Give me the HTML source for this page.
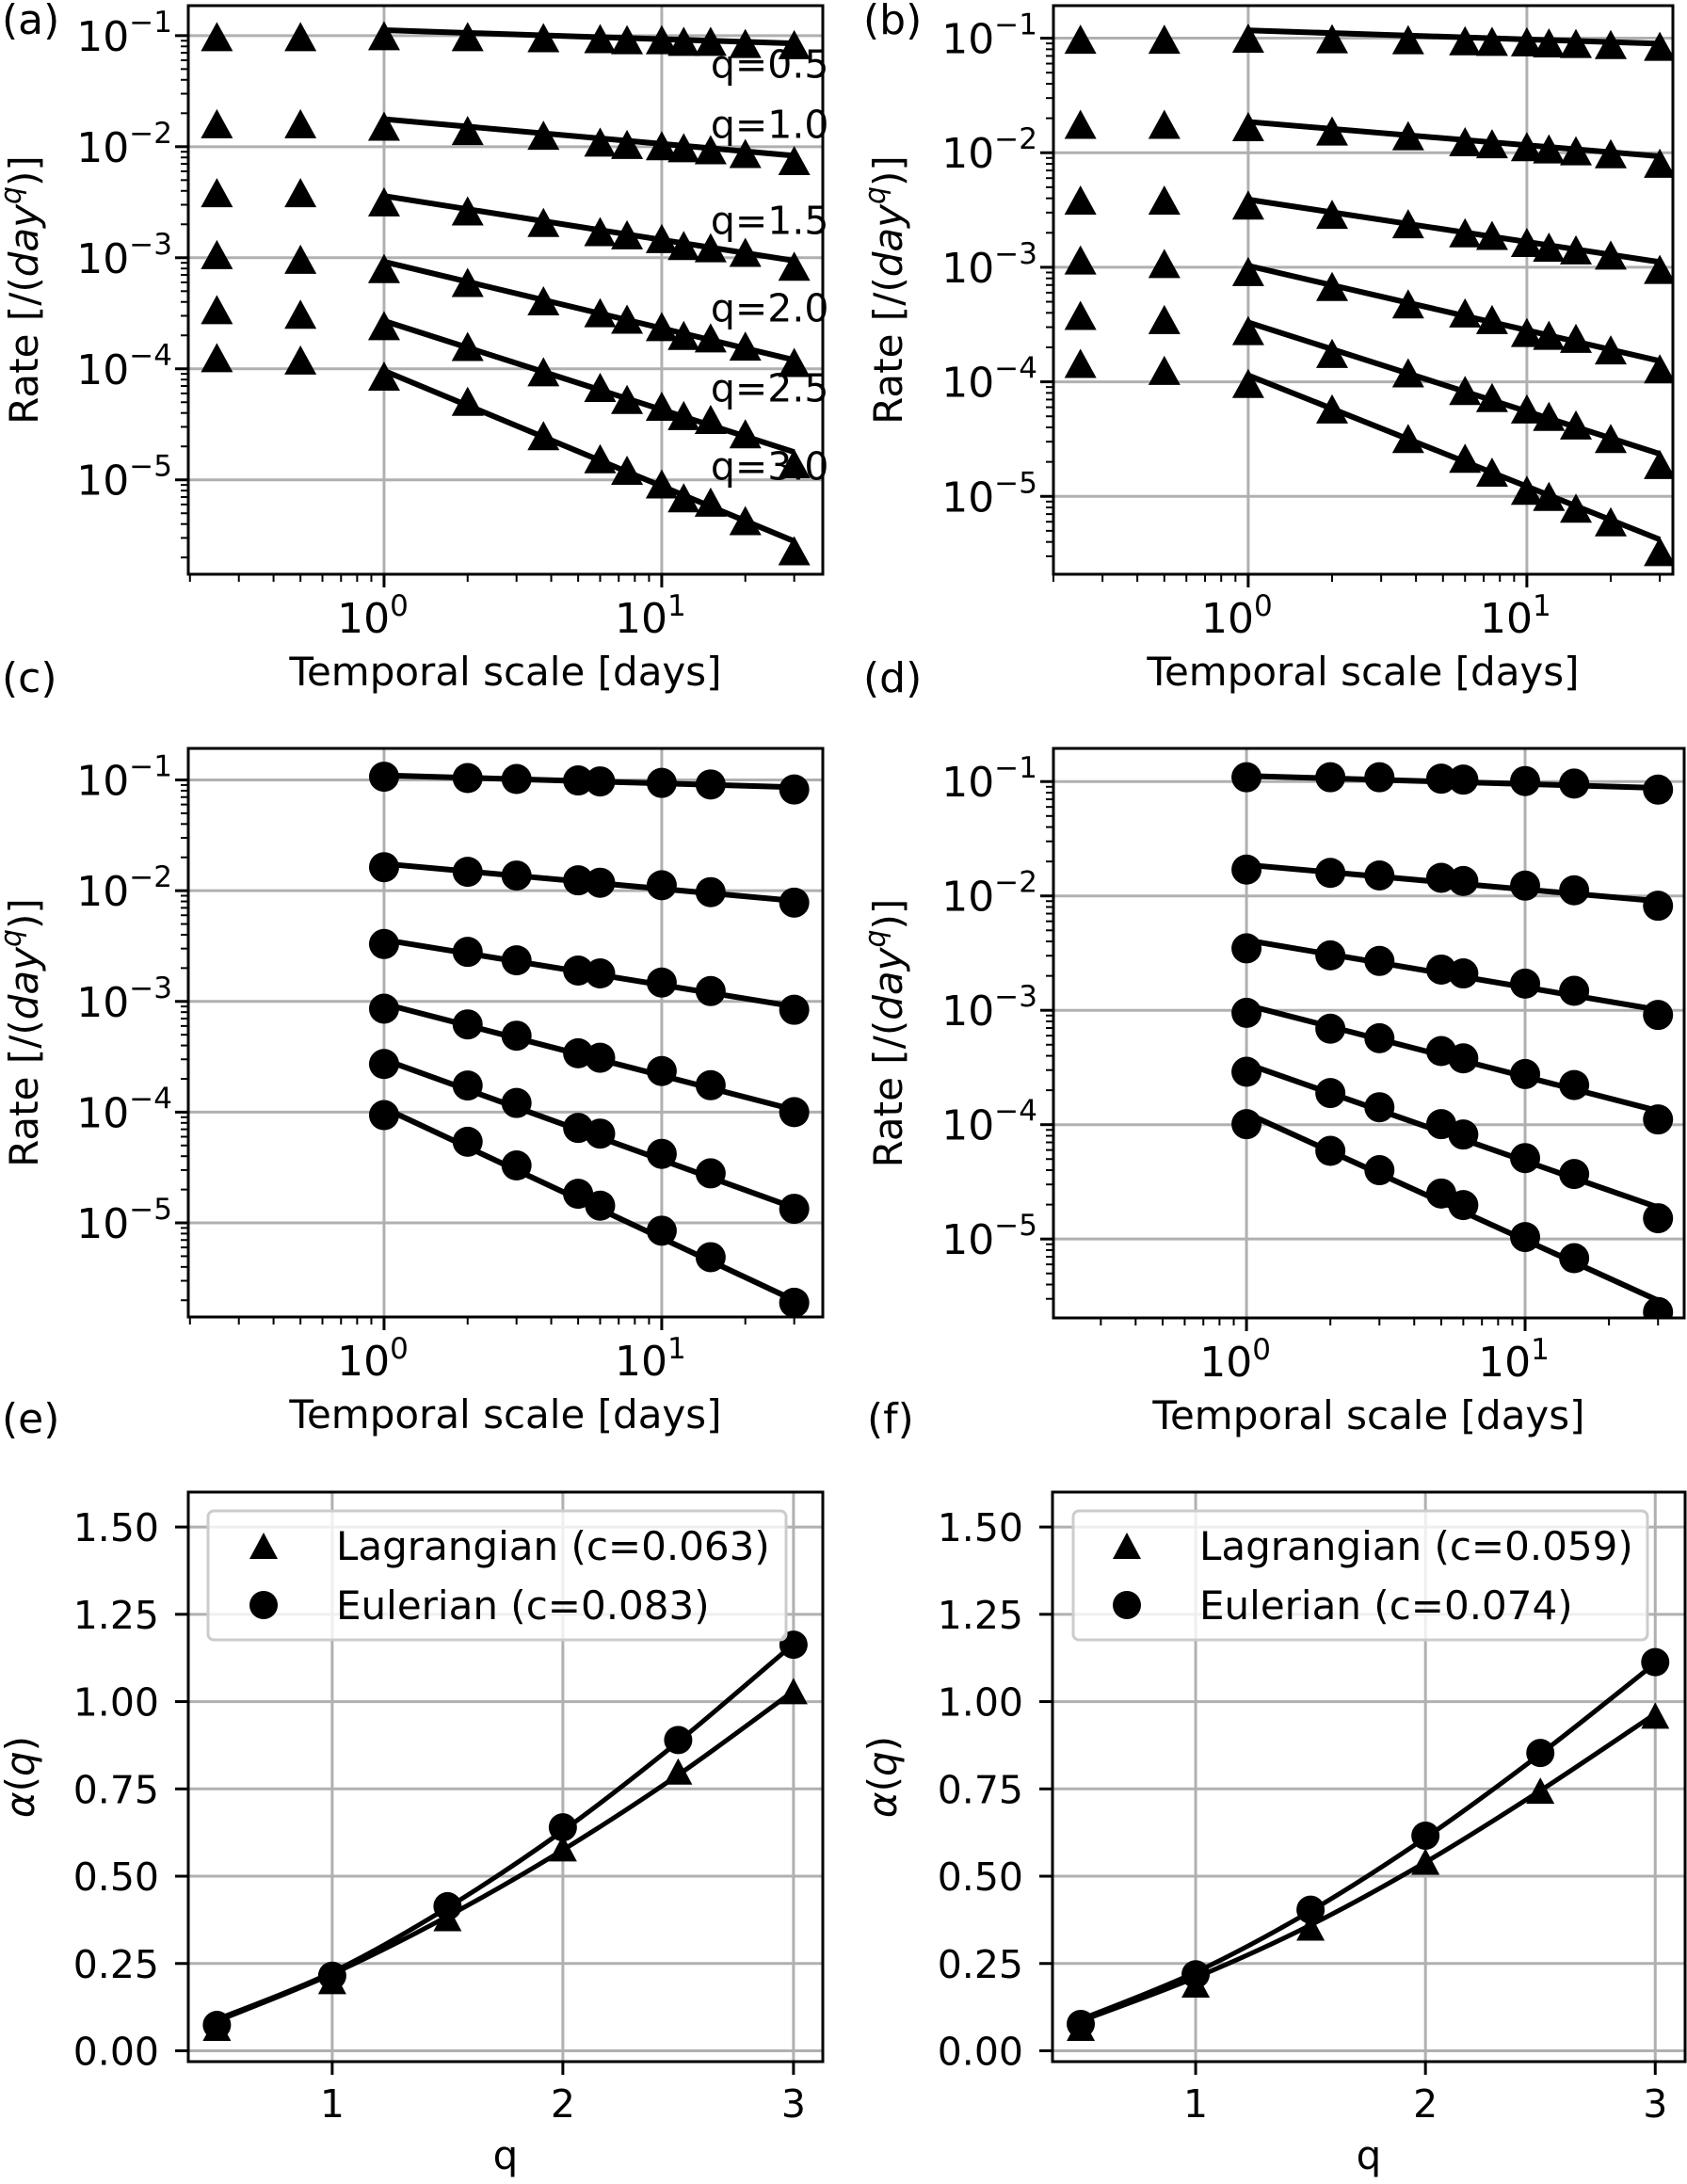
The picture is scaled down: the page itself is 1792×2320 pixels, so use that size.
<!DOCTYPE html>
<html><head><meta charset="utf-8"><style>
html,body{margin:0;padding:0;background:#fff;}
svg{display:block;font-family:"DejaVu Sans","Liberation Sans",sans-serif;}
</style></head><body>
<svg id="fig" width="1792" height="2320" viewBox="0 0 1792 2320" xmlns="http://www.w3.org/2000/svg">
<rect x="0" y="0" width="1792" height="2320" fill="#fff"/>
</svg>
<script>
// ---------- data ----------
const xTri = [0.25,0.5,1,2,3.75,6,7.5,10,12,15,20,30];
const xCirc = [1,2,3,5,6,10,15,30];
const qLabels = ["q=0.5","q=1.0","q=1.5","q=2.0","q=2.5","q=3.0"];
const qLabelY = [0.056,0.016,0.0022,0.000356,0.000068,0.0000134];
const qLabelX = 15;

const aQ05 = [0.098,0.098,0.100,0.098,0.096,0.094,0.092,0.092,0.089,0.089,0.085,0.083];
const aQ10 = [0.0161,0.0161,0.0153,0.0140,0.0127,0.0110,0.0105,0.0102,0.0098,0.0094,0.0087,0.0075];
const aQ15 = [0.00386,0.00386,0.00319,0.00264,0.00208,0.00172,0.00161,0.00149,0.00129,0.00123,0.00112,0.00084];
const aQ20 = [0.00107,0.00097,0.00080,0.00060,0.00041,0.00032,0.00028,0.00024,0.00020,0.00019,0.00016,0.000114];
const aQ25 = [3.41e-4,3.1e-4,2.45e-4,1.59e-4,0.94e-4,0.68e-4,0.53e-4,0.46e-4,0.38e-4,0.35e-4,0.26e-4,0.14e-4];
const aQ30 = [1.26e-4,1.2e-4,0.86e-4,0.51e-4,0.25e-4,1.55e-5,1.22e-5,0.92e-5,0.69e-5,0.63e-5,0.43e-5,0.23e-5];
const aFitStart = [0.112,0.0177,0.0036,0.00092,0.00027,0.000096];
const aFitEnd = [0.085,0.0083,0.00094,0.00012,0.0000178,0.0000028];

const bQ05 = [0.098,0.098,0.100,0.099,0.097,0.095,0.094,0.093,0.091,0.090,0.088,0.085];
const bQ10 = [0.0177,0.0177,0.0169,0.0155,0.0141,0.0125,0.0120,0.0113,0.0108,0.0104,0.0098,0.0081];
const bQ15 = [0.00386,0.00386,0.0035,0.0029,0.0024,0.0020,0.0019,0.00165,0.0015,0.00142,0.00128,0.00096];
const bQ20 = [0.00116,0.00108,0.00092,0.00068,0.00048,0.00040,0.00035,0.00027,0.000255,0.00024,0.00019,0.00013];
const bQ25 = [3.8e-4,3.5e-4,2.8e-4,1.77e-4,1.2e-4,0.84e-4,0.73e-4,0.58e-4,0.5e-4,0.42e-4,0.32e-4,0.19e-4];
const bQ30 = [1.45e-4,1.26e-4,0.97e-4,0.58e-4,0.32e-4,0.215e-4,0.163e-4,0.113e-4,1.0e-5,0.79e-5,0.6e-5,0.33e-5];
const bFitStart = [0.117,0.0186,0.0039,0.00103,0.00033,0.000114];
const bFitEnd = [0.0895,0.0093,0.00111,0.000152,0.0000235,0.0000042];

const cQ05 = [0.107,0.104,0.102,0.099,0.097,0.094,0.091,0.082];
const cQ10 = [0.0163,0.0148,0.0137,0.0124,0.0118,0.0112,0.0097,0.0078];
const cQ15 = [3.30e-3,2.80e-3,2.35e-3,1.90e-3,1.79e-3,1.48e-3,1.24e-3,0.84e-3];
const cQ20 = [0.86e-3,0.62e-3,0.49e-3,0.34e-3,0.31e-3,0.235e-3,0.175e-3,0.10e-3];
const cQ25 = [2.72e-4,1.74e-4,1.21e-4,0.72e-4,0.64e-4,0.42e-4,0.28e-4,0.134e-4];
const cQ30 = [0.94e-4,0.54e-4,0.33e-4,0.183e-4,0.143e-4,0.085e-4,0.049e-4,0.19e-5];
const cFitStart = [0.110,0.0175,0.0036,0.00095,0.000298,0.000109];
const cFitEnd = [0.086,0.0081,0.00090,0.000105,0.0000137,0.0000020];

const dQ05 = [0.109,0.109,0.109,0.106,0.104,0.101,0.096,0.085];
const dQ10 = [0.0170,0.0159,0.0151,0.0144,0.0135,0.0123,0.0112,0.0082];
const dQ15 = [3.48e-3,3.02e-3,2.70e-3,2.27e-3,2.10e-3,1.71e-3,1.48e-3,0.91e-3];
const dQ20 = [0.95e-3,0.69e-3,0.57e-3,0.44e-3,0.38e-3,0.277e-3,0.222e-3,0.111e-3];
const dQ25 = [2.9e-4,1.89e-4,1.42e-4,1.01e-4,0.82e-4,0.51e-4,0.37e-4,0.152e-4];
const dQ30 = [1.01e-4,0.59e-4,0.40e-4,0.25e-4,0.198e-4,1.04e-5,0.68e-5,0.23e-5];
const dFitStart = [0.112,0.0187,0.0041,0.00111,0.00034,0.000126];
const dFitEnd = [0.088,0.0090,0.00101,0.000132,0.0000189,0.0000029];

const qVals = [0.5,1,1.5,2,2.5,3];
const eLag = [0.066,0.20,0.38,0.58,0.80,1.03];
const eEul = [0.074,0.215,0.414,0.64,0.89,1.163];
const eFitLag = [0.085,0.22,0.385,0.575,0.79,1.03];
const eFitEul = [0.09,0.225,0.41,0.63,0.885,1.165];
const fLag = [0.066,0.19,0.353,0.542,0.745,0.96];
const fEul = [0.077,0.219,0.404,0.616,0.853,1.113];
const fFitLag = [0.085,0.21,0.36,0.54,0.745,0.965];
const fFitEul = [0.09,0.225,0.40,0.61,0.85,1.11];
const alphaTicks = [0,0.25,0.5,0.75,1.0,1.25,1.5];
const alphaTickLabels = ["0.00","0.25","0.50","0.75","1.00","1.25","1.50"];
const qTicks = [1,2,3];
const logYTicks = [-1,-2,-3,-4,-5];
const logXTicks = [0,1];
const legendE = ["Lagrangian (c=0.063)","Eulerian (c=0.083)"];
const legendF = ["Lagrangian (c=0.059)","Eulerian (c=0.074)"];

// ---------- drawing ----------
const NS = "http://www.w3.org/2000/svg";
const svg = document.getElementById("fig");
function mk(tag, attrs, parent){
  const e = document.createElementNS(NS, tag);
  for (const k in attrs) e.setAttribute(k, attrs[k]);
  (parent||svg).appendChild(e);
  return e;
}
const GRID="#b0b0b0";
let clipId=0;

function makePanel(p){
  const g = mk("g",{});
  
  
  p.g = g;
  const lx = v => p.logx ? Math.log10(v) : v;
  const ly = v => p.logy ? Math.log10(v) : v;
  p.sx = v => p.L + (lx(v)-p.x0)/(p.x1-p.x0)*(p.R-p.L);
  p.sy = v => p.B - (ly(v)-p.y0)/(p.y1-p.y0)*(p.B-p.T);
  const cid = "clip"+(clipId++);
  const cp = mk("clipPath",{id:cid},g);
  mk("rect",{x:p.L,y:p.T,width:p.R-p.L,height:p.B-p.T},cp);
  p.clip = "url(#"+cid+")";
  return p;
}
function sxRaw(p,l){ return p.L + (l-p.x0)/(p.x1-p.x0)*(p.R-p.L); }
function syRaw(p,l){ return p.B - (l-p.y0)/(p.y1-p.y0)*(p.B-p.T); }

function logAxes(p){
  const g=p.g;
  logXTicks.forEach(t=>{
    const x=sxRaw(p,t);
    const l=mk("line",{x1:x,x2:x,y1:p.T,y2:p.B,stroke:GRID,"stroke-width":3},g);
    
    
  });
  logYTicks.forEach(t=>{
    const y=syRaw(p,t);
    const l=mk("line",{x1:p.L,x2:p.R,y1:y,y2:y,stroke:GRID,"stroke-width":3},g);
    
    
  });
  for(let k=-2;k<=2;k++){ for(let m=2;m<=9;m++){
    const l=k+Math.log10(m);
    if(l>p.x0 && l<p.x1){ const x=sxRaw(p,l);
      const t=mk("line",{x1:x,x2:x,y1:p.B,y2:p.B+8,stroke:"#000","stroke-width":2},g);
      
      
    }}}
  for(let k=-7;k<=0;k++){ for(let m=2;m<=9;m++){
    const l=k+Math.log10(m);
    if(l>p.y0 && l<p.y1){ const y=syRaw(p,l);
      const t=mk("line",{x1:p.L-8,x2:p.L,y1:y,y2:y,stroke:"#000","stroke-width":2},g);
      
      
    }}}
  logXTicks.forEach(t=>{
    const x=sxRaw(p,t);
    const tk=mk("line",{x1:x,x2:x,y1:p.B,y2:p.B+14,stroke:"#000","stroke-width":3},g);
    
    
    const tx=mk("text",{x:x-12,y:p.B+62,"font-size":44,"text-anchor":"middle"},g);
    
    
    tx.appendChild(document.createTextNode("10"));
    const sp=mk("tspan",{dy:-18,"font-size":31},tx); sp.textContent=String(t);
  });
  logYTicks.forEach(t=>{
    const y=syRaw(p,t);
    const tk=mk("line",{x1:p.L-14,x2:p.L,y1:y,y2:y,stroke:"#000","stroke-width":3},g);
    
    
    const tx=mk("text",{x:p.L-17,y:y+16,"font-size":44,"text-anchor":"end"},g);
    
    
    tx.appendChild(document.createTextNode("10"));
    const sp=mk("tspan",{dy:-20,"font-size":31},tx); sp.textContent="\u2212"+(-t);
  });
  const xl=mk("text",{x:(p.L+p.R)/2,y:p.B+118,"font-size":42,"text-anchor":"middle"},g);
  
  
  xl.textContent="Temporal scale [days]";
  const cy=(p.T+p.B)/2;
  const yl=mk("text",{x:p.ylx,y:cy,"font-size":42,"text-anchor":"middle",transform:"rotate(-90 "+p.ylx+" "+cy+")"},g);
  
  
  yl.appendChild(document.createTextNode("Rate [/("));
  const it=mk("tspan",{"font-style":"italic"},yl); it.textContent="day";
  const sq=mk("tspan",{"font-style":"italic","font-size":30,dy:-18},yl); sq.textContent="q";
  const rest=mk("tspan",{dy:18},yl); rest.textContent=")]";
}

function linAxes(p){
  const g=p.g;
  qTicks.forEach(t=>{
    const x=p.sx(t);
    const l=mk("line",{x1:x,x2:x,y1:p.T,y2:p.B,stroke:GRID,"stroke-width":3},g);
    
    
    const tk=mk("line",{x1:x,x2:x,y1:p.B,y2:p.B+14,stroke:"#000","stroke-width":3},g);
    
    
    const tx=mk("text",{x:x,y:p.B+59,"font-size":41,"text-anchor":"middle"},g);
    
    
    tx.textContent=String(t);
  });
  alphaTicks.forEach((t,i)=>{
    const y=p.sy(t);
    const l=mk("line",{x1:p.L,x2:p.R,y1:y,y2:y,stroke:GRID,"stroke-width":3},g);
    
    
    const tk=mk("line",{x1:p.L-14,x2:p.L,y1:y,y2:y,stroke:"#000","stroke-width":3},g);
    
    
    const tx=mk("text",{x:p.L-31,y:y+15,"font-size":41,"text-anchor":"end"},g);
    
    
    tx.textContent=alphaTickLabels[i];
  });
  const xl=mk("text",{x:(p.L+p.R)/2,y:p.B+114,"font-size":42,"text-anchor":"middle"},g);
  
  
  xl.textContent="q";
  const cy=(p.T+p.B)/2;
  const yl=mk("text",{x:p.ylx,y:cy,"font-size":42,"text-anchor":"middle",transform:"rotate(-90 "+p.ylx+" "+cy+")"},g);
  
  
  const a=mk("tspan",{"font-style":"italic"},yl); a.textContent="\u03b1";
  const b=mk("tspan",{},yl); b.textContent="(";
  const c=mk("tspan",{"font-style":"italic"},yl); c.textContent="q";
  const d=mk("tspan",{},yl); d.textContent=")";
}

function tri(parent,x,y,hw,h){
  return mk("path",{d:`M${x} ${y-h/2} L${x+hw} ${y+h/2} L${x-hw} ${y+h/2} Z`,fill:"#000"},parent);
}

function spines(p){
  const r=mk("rect",{x:p.L,y:p.T,width:p.R-p.L,height:p.B-p.T,fill:"none",stroke:"#000","stroke-width":3},p.g);
  
  
}

function drawRatePanel(p, xs, series, fitS, fitE, marker){
  const dg=mk("g",{"clip-path":p.clip},p.g);
  series.forEach((vals,i)=>{
    const ln=mk("line",{x1:p.sx(1),y1:p.sy(fitS[i]),x2:p.sx(30),y2:p.sy(fitE[i]),stroke:"#000","stroke-width":6},dg);
    
    
  });
  series.forEach((vals,i)=>{
    vals.forEach((v,j)=>{
      let m;
      if(marker==="tri") m=tri(dg,p.sx(xs[j]),p.sy(v),17,31);
      else m=mk("circle",{cx:p.sx(xs[j]),cy:p.sy(v),r:16,fill:"#000"},dg);
      
      
    });
  });
}

function smoothPath(p, xs, ys){
  const pts=xs.map((x,i)=>[p.sx(x),p.sy(ys[i])]);
  let d=`M${pts[0][0]} ${pts[0][1]}`;
  for(let i=0;i<pts.length-1;i++){
    const p0=pts[Math.max(0,i-1)],p1=pts[i],p2=pts[i+1],p3=pts[Math.min(pts.length-1,i+2)];
    const c1=[p1[0]+(p2[0]-p0[0])/6,p1[1]+(p2[1]-p0[1])/6];
    const c2=[p2[0]-(p3[0]-p1[0])/6,p2[1]-(p3[1]-p1[1])/6];
    d+=` C${c1[0]} ${c1[1]} ${c2[0]} ${c2[1]} ${p2[0]} ${p2[1]}`;
  }
  return d;
}

function drawAlphaPanel(p, lag, eul, fitLag, fitEul, leg, legBox){
  const dg=mk("g",{"clip-path":p.clip},p.g);
  const l1=mk("path",{d:smoothPath(p,qVals,fitLag),fill:"none",stroke:"#000","stroke-width":5},dg);
  
  
  const l2=mk("path",{d:smoothPath(p,qVals,fitEul),fill:"none",stroke:"#000","stroke-width":5},dg);
  
  
  lag.forEach((v,j)=>{
    const m=tri(dg,p.sx(qVals[j]),p.sy(v),15,28);
    
    
  });
  eul.forEach((v,j)=>{
    const m=mk("circle",{cx:p.sx(qVals[j]),cy:p.sy(v),r:15,fill:"#000"},dg);
    
    
  });
  const lg=mk("g",{},p.g);
  
  
  mk("rect",{x:legBox.x,y:legBox.y,width:legBox.w,height:legBox.h,rx:6,fill:"#fff","fill-opacity":0.8,stroke:"#cccccc","stroke-width":3},lg);
  const e1=mk("g",{},lg);
  
  
  tri(e1,legBox.mx,legBox.r1,15,28);
  const t1=mk("text",{x:legBox.tx,y:legBox.r1+15,"font-size":42},e1); t1.textContent=leg[0];
  const e2=mk("g",{},lg);
  
  
  mk("circle",{cx:legBox.mx,cy:legBox.r2,r:15,fill:"#000"},e2);
  const t2=mk("text",{x:legBox.tx,y:legBox.r2+15,"font-size":42},e2); t2.textContent=leg[1];
}

function panelLabel(txt,x,y){
  const t=mk("text",{x:x,y:y,"font-size":44},svg);
  
  
  t.textContent=txt;
}

const pA=makePanel({name:"panel-a",L:200,R:874,T:6,B:610,x0:-0.705,x1:1.58,y0:-5.85,y1:-0.73,logx:true,logy:true,ylx:40});
logAxes(pA);
qLabels.forEach((s,i)=>{
  const t=mk("text",{x:pA.sx(qLabelX),y:pA.sy(qLabelY[i])+15,"font-size":41},pA.g);
  
  
  t.textContent=s;
});
drawRatePanel(pA,xTri,[aQ05,aQ10,aQ15,aQ20,aQ25,aQ30],aFitStart,aFitEnd,"tri");
spines(pA);

const pB=makePanel({name:"panel-b",L:1119,R:1777,T:6,B:610,x0:-0.699,x1:1.524,y0:-5.68,y1:-0.716,logx:true,logy:true,ylx:958});
logAxes(pB);
drawRatePanel(pB,xTri,[bQ05,bQ10,bQ15,bQ20,bQ25,bQ30],bFitStart,bFitEnd,"tri");
spines(pB);

const pC=makePanel({name:"panel-c",L:200,R:874,T:795,B:1399,x0:-0.705,x1:1.58,y0:-5.85,y1:-0.715,logx:true,logy:true,ylx:40});
logAxes(pC);
drawRatePanel(pC,xCirc,[cQ05,cQ10,cQ15,cQ20,cQ25,cQ30],cFitStart,cFitEnd,"circ");
spines(pC);

const pD=makePanel({name:"panel-d",L:1119,R:1789,T:795,B:1400,x0:-0.693,x1:1.571,y0:-5.69,y1:-0.71,logx:true,logy:true,ylx:958});
logAxes(pD);
drawRatePanel(pD,xCirc,[dQ05,dQ10,dQ15,dQ20,dQ25,dQ30],dFitStart,dFitEnd,"circ");
spines(pD);

const pE=makePanel({name:"panel-e",L:200,R:874,T:1585,B:2190,x0:0.376,x1:3.127,y0:-0.031,y1:1.60,logx:false,logy:false,ylx:36});
linAxes(pE);
drawAlphaPanel(pE,eLag,eEul,eFitLag,eFitEul,legendE,{x:221,y:1605,w:614,h:137,mx:280,tx:357,r1:1642,r2:1705});
spines(pE);

const pF=makePanel({name:"panel-f",L:1118,R:1790,T:1585,B:2190,x0:0.377,x1:3.13,y0:-0.031,y1:1.60,logx:false,logy:false,ylx:952});
linAxes(pF);
drawAlphaPanel(pF,fLag,fEul,fFitLag,fFitEul,legendF,{x:1140,y:1605,w:610,h:137,mx:1197,tx:1274,r1:1642,r2:1705});
spines(pF);

panelLabel("(a)",2,36);
panelLabel("(b)",917,36);
panelLabel("(c)",2,735);
panelLabel("(d)",917,735);
panelLabel("(e)",2,1522);
panelLabel("(f)",921,1522);
</script>
</body></html>
